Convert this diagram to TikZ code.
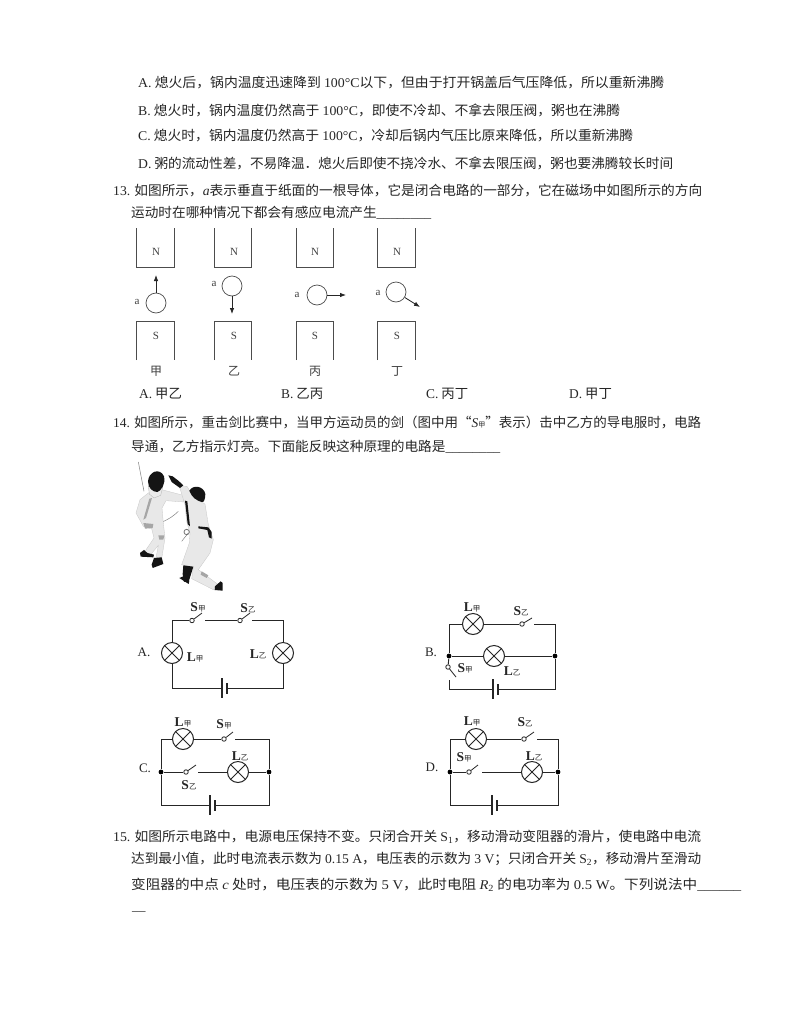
\documentclass[tikz,border=0pt]{standalone}
\usepackage{fontspec}
\usepackage{graphicx}
\setmainfont{Noto Sans CJK SC}
\newfontfamily\lt{Liberation Serif}
\usetikzlibrary{arrows.meta}
\newcommand{\LT}[1]{{\lt #1}}
\newcommand{\LI}[1]{{\lt\itshape #1}}
\newcommand{\FW}[2]{\resizebox{#1pt}{\height}{#2}}
\newcommand{\SB}[2]{{\lt\bfseries\fontsize{13.5}{13.5}\selectfont #1}{\fontsize{7.5}{7.5}\selectfont #2}}
\tikzset{
 txt/.style={anchor=west,inner sep=0pt,font=\fontsize{13.4}{14}\selectfont,text=black!85},
 lab/.style={inner sep=0pt,font=\lt\fontsize{11}{11}\selectfont,text=black!75},
 han/.style={inner sep=0pt,font=\fontsize{12}{12}\selectfont,text=black!75},
 opt/.style={inner sep=0pt,font=\lt\fontsize{13}{13}\selectfont,text=black!85},
 clabel/.style={inner sep=0pt,text=black!85},
 magnet/.style={draw=black!70,line width=0.7pt},
 wire/.style={draw=black!85,line width=0.9pt},
 arm/.style={draw=black!85,line width=0.8pt},
 lamp/.style={circle,draw=black!85,line width=1pt,fill=white,minimum size=21pt,inner sep=0pt,
   path picture={\draw[black!85,line width=0.9pt]
     (path picture bounding box.north west)--(path picture bounding box.south east)
     (path picture bounding box.north east)--(path picture bounding box.south west);}},
 swdot/.style={circle,draw=black!85,line width=0.8pt,fill=white,minimum size=4.5pt,inner sep=0pt},
 jdot/.style={circle,fill=black,minimum size=4.8pt,inner sep=0pt},
 plong/.style={fill=black!85,inner sep=0pt,minimum width=1.1pt,minimum height=20pt},
 pshort/.style={fill=black!85,inner sep=0pt,minimum width=1.6pt,minimum height=11pt},
 ball/.style={circle,draw=black!70,line width=0.7pt,minimum size=20pt,inner sep=0pt},
 move/.style={draw=black!85,line width=0.8pt,-{Latex[length=6pt,width=4.5pt]}},
 suit/.style={fill=black!9,draw=black!22,line width=0.3pt},
 shade/.style={fill=black!35,draw=none},
 dark/.style={fill=black!92,draw=none},
 blade/.style={draw=black!50,line width=0.5pt},
}
\begin{document}
\begin{tikzpicture}[x=1pt,y=-1pt]
\useasboundingbox (0,0) rectangle (794,1028);
\fill[white] (0,0) rectangle (794,1028);
% text lines
\node[txt] (ta) at (138,83) {\FW{526}{\LT{A.} 熄火后，锅内温度迅速降到 \LT{100°C}以下，但由于打开锅盖后气压降低，所以重新沸腾}};
\node[txt] (tb) at (138,110) {\FW{482}{\LT{B.} 熄火时，锅内温度仍然高于 \LT{100°C}，即使不冷却、不拿去限压阀，粥也在沸腾}};
\node[txt] (tc) at (138,136) {\FW{495}{\LT{C.} 熄火时，锅内温度仍然高于 \LT{100°C}，冷却后锅内气压比原来降低，所以重新沸腾}};
\node[txt] (td) at (138,163) {\FW{535}{\LT{D.} 粥的流动性差，不易降温．熄火后即使不挠冷水、不拿去限压阀，粥也要沸腾较长时间}};
\node[txt] (q13) at (113,191) {\FW{589}{\LT{13.} 如图所示，\LI{a}表示垂直于纸面的一根导体，它是闭合电路的一部分，它在磁场中如图所示的方向}};
\node[txt] (q13b) at (131,213) {\FW{300}{运动时在哪种情况下都会有感应电流产生\LT{\_\_\_\_\_\_\_\_}}};
% magnets
\draw[magnet] (136,228)--(136,267)--(174,267)--(174,228);
\draw[magnet] (214,228)--(214,267)--(251,267)--(251,228);
\draw[magnet] (296,228)--(296,267)--(333,267)--(333,228);
\draw[magnet] (377,228)--(377,267)--(415,267)--(415,228);
\draw[magnet] (136,360)--(136,321)--(174,321)--(174,360);
\draw[magnet] (214,360)--(214,321)--(251,321)--(251,360);
\draw[magnet] (296,360)--(296,321)--(333,321)--(333,360);
\draw[magnet] (377,360)--(377,321)--(415,321)--(415,360);
\foreach \n/\x in {1/156,2/234,3/315,4/397}{
 \node[lab] (n\n) at (\x,252) {N};
 \node[lab] (s\n) at (\x,336) {S};
}
\node[han] (h1) at (156,371) {甲};
\node[han] (h2) at (234,371) {乙};
\node[han] (h3) at (315,371) {丙};
\node[han] (h4) at (397,371) {丁};
\node[ball] (b1) at (156,303) {};
\node[ball] (b2) at (232,286) {};
\node[ball] (b3) at (317,295) {};
\node[ball] (b4) at (396,292) {};
\coordinate (e1) at (156,275); \coordinate (e2) at (232,314);
\coordinate (e3) at (346,295); \coordinate (e4) at (420,307);
\draw[move] (b1)--(e1); \draw[move] (b2)--(e2); \draw[move] (b3)--(e3); \draw[move] (b4)--(e4);
\node[lab] (a1) at (137,302) {a};
\node[lab] (a2) at (214,284) {a};
\node[lab] (a3) at (297,295) {a};
\node[lab] (a4) at (378,293) {a};
\node[txt] (oa) at (139,394) {\LT{A.} 甲乙};
\node[txt] (ob) at (281,394) {\LT{B.} 乙丙};
\node[txt] (oc) at (426,394) {\LT{C.} 丙丁};
\node[txt] (od) at (569,394) {\LT{D.} 甲丁};
% q14
\node[txt] (q14) at (113,422) {\FW{588}{\LT{14.} 如图所示，重击剑比赛中，当甲方运动员的剑（图中用“\LI{S}{\fontsize{7}{7}\selectfont 甲}”表示）击中乙方的导电服时，电路}};
\node[txt] (q14b) at (131,447) {\FW{369}{导通，乙方指示灯亮。下面能反映这种原理的电路是\LT{\_\_\_\_\_\_\_\_}}};
% fencers
\begin{scope}[shift={(130,458)},x=0.3333pt,y=-0.3333pt]
 \draw[blade] (25,12)--(42,100);
 \draw[blade] (50,205) .. controls (85,200) and (120,185) .. (145,160);
 \draw[blade] (175,225)--(155,250);
 % left fencer
 \path[suit] (55,105)--(30,125)--(18,165)--(40,205)--(65,212)--(72,240)--(45,280)--(62,290)--(85,262)--(78,300)--(95,302)--(105,240)--(100,195)--(96,150)--(108,128)--(162,132)--(160,112)--(95,95)--cycle;
 \path[shade] (58,122)--(66,120)--(48,180)--(40,185)--cycle;
 \path[shade] (85,232)--(103,232)--(100,245)--(88,245)--cycle;
 \path[fill=black!8,draw=black!30,line width=0.3pt] (55,85)--(98,88)--(92,112)--(72,120)--(58,108)--cycle;
 \path[dark] (54,70) .. controls (56,40) and (90,28) .. (102,55) .. controls (108,78) and (92,100) .. (82,102) .. controls (68,102) and (54,90) .. (54,70) -- cycle;
 \path[dark] (30,285)--(42,276)--(52,285)--(72,290)--(70,298)--(32,296)--cycle;
 \path[dark] (72,300)--(95,298)--(100,318)--(68,330)--(65,320)--cycle;
 \path[shade] (40,195)--(70,198)--(68,210)--(45,212)--cycle;
 % right fencer
 \path[suit] (148,85)--(165,140)--(170,190)--(180,225)--(178,255)--(155,320)--(190,328)--(185,362)--(250,395)--(262,378)--(205,335)--(240,285)--(250,245)--(235,200)--(225,138)--(190,118)--(172,86)--cycle;
 \path[dark] (115,52)--(128,55)--(145,68)--(160,82)--(150,90)--(125,72)--cycle;
 \path[dark] (178,98) .. controls (190,78) and (222,85) .. (226,108) .. controls (226,122) and (222,135) .. (215,132) .. controls (200,128) and (185,118) .. (178,98) -- cycle;
 \path[dark] (165,128)--(172,130)--(180,205)--(173,198)--cycle;
 \path[dark] (205,205)--(235,208)--(245,222)--(245,242)--(237,238)--(232,216)--(205,211)--cycle;
 \path[dark] (160,322)--(190,326)--(178,365)--(162,372)--(158,348)--cycle;
 \path[dark] (148,360)--(160,355)--(178,368)--(176,378)--cycle;
 \path[dark] (255,385)--(272,370)--(278,375)--(278,398)--(254,396)--cycle;
 \path[shade] (215,340)--(235,352)--(230,360)--(212,350)--cycle;
 \draw[black!55,line width=0.8pt] (170,222) circle (8);
\end{scope}
% circuit A
\node[opt] (la) at (144,652) {A.};
\node[lamp] (a1l) at (172,653) {};
\node[lamp] (a2l) at (283,653) {};
\node[swdot] (as1) at (192,620.5) {};
\node[swdot] (as2) at (240,620.5) {};
\coordinate (aTL) at (172,620.5); \coordinate (aTR) at (283,620.5);
\coordinate (aBL) at (172,688); \coordinate (aBR) at (283,688);
\coordinate (aA1) at (202,613); \coordinate (aA2) at (250,613);
\coordinate (aG1) at (205,620.5); \coordinate (aG2) at (252,620.5);
\node[plong] (ap) at (222,688) {};
\node[pshort] (an) at (227,688) {};
\draw[wire] (as1)--(aTL)--(a1l);
\draw[wire] (a1l)--(aBL)--(ap);
\draw[wire] (an)--(aBR)--(a2l);
\draw[wire] (a2l)--(aTR)--(aG2);
\draw[wire] (aG1)--(as2);
\draw[arm] (as1)--(aA1); \draw[arm] (as2)--(aA2);
\node[clabel] (als1) at (198,607) {\SB{S}{甲}};
\node[clabel] (als2) at (248,608) {\SB{S}{乙}};
\node[clabel] (all1) at (195,657) {\SB{L}{甲}};
\node[clabel] (all2) at (258,654) {\SB{L}{乙}};
% circuit B
\node[opt] (lb) at (431,652) {B.};
\node[lamp] (b1l) at (473,624) {};
\node[lamp] (b2l) at (494,656) {};
\node[swdot] (bs1) at (522,624) {};
\node[swdot] (bs2) at (448,667) {};
\node[jdot] (bj1) at (449,656) {};
\node[jdot] (bj2) at (555,656) {};
\coordinate (bTL) at (449,624); \coordinate (bTR) at (555,624);
\coordinate (bBL) at (449,689); \coordinate (bBR) at (555,689);
\coordinate (bG1) at (534,624); \coordinate (bA1) at (532,618);
\coordinate (bA2) at (456,677); \coordinate (bG2) at (449,680);
\node[plong] (bp) at (493,689) {};
\node[pshort] (bn) at (498,689) {};
\draw[wire] (bj1)--(bTL)--(b1l);
\draw[wire] (b1l)--(bs1);
\draw[wire] (bG1)--(bTR)--(bj2);
\draw[wire] (bj1)--(b2l); \draw[wire] (b2l)--(bj2);
\draw[wire] (bj2)--(bBR)--(bn);
\draw[wire] (bp)--(bBL)--(bG2);
\draw[wire] (bj1)--(bs2);
\draw[arm] (bs1)--(bA1); \draw[arm] (bs2)--(bA2);
\node[clabel] (bll1) at (472,607) {\SB{L}{甲}};
\node[clabel] (bls1) at (521,611) {\SB{S}{乙}};
\node[clabel] (bls2) at (465,668) {\SB{S}{甲}};
\node[clabel] (bll2) at (512,671) {\SB{L}{乙}};
% circuit C
\node[opt] (lc) at (145,768) {C.};
\node[lamp] (c1l) at (183,739) {};
\node[lamp] (c2l) at (238,772) {};
\node[swdot] (cs1) at (224,739) {};
\node[swdot] (cs2) at (186,772) {};
\node[jdot] (cj1) at (161,772) {};
\node[jdot] (cj2) at (269,772) {};
\coordinate (cTL) at (161,739); \coordinate (cTR) at (269,739);
\coordinate (cBL) at (161,805); \coordinate (cBR) at (269,805);
\coordinate (cG1) at (235,739); \coordinate (cA1) at (233,732);
\coordinate (cG2) at (198,772); \coordinate (cA2) at (196,765);
\node[plong] (cp) at (210,805) {};
\node[pshort] (cn) at (215,805) {};
\draw[wire] (cj1)--(cTL)--(c1l);
\draw[wire] (c1l)--(cs1);
\draw[wire] (cG1)--(cTR)--(cj2);
\draw[wire] (cj1)--(cs2);
\draw[wire] (cG2)--(c2l);
\draw[wire] (c2l)--(cj2);
\draw[wire] (cj1)--(cBL)--(cp);
\draw[wire] (cn)--(cBR)--(cj2);
\draw[arm] (cs1)--(cA1); \draw[arm] (cs2)--(cA2);
\node[clabel] (cll1) at (183,722) {\SB{L}{甲}};
\node[clabel] (cls1) at (224,724) {\SB{S}{甲}};
\node[clabel] (cll2) at (240,756) {\SB{L}{乙}};
\node[clabel] (cls2) at (189,785) {\SB{S}{乙}};
% circuit D
\node[opt] (ld) at (432,767) {D.};
\node[lamp] (d1l) at (476,739) {};
\node[lamp] (d2l) at (532,772) {};
\node[swdot] (ds1) at (524,739) {};
\node[swdot] (ds2) at (469,772) {};
\node[jdot] (dj1) at (450,772) {};
\node[jdot] (dj2) at (558,772) {};
\coordinate (dTL) at (450,739); \coordinate (dTR) at (558,739);
\coordinate (dBL) at (450,805); \coordinate (dBR) at (558,805);
\coordinate (dG1) at (537,739); \coordinate (dA1) at (534,732);
\coordinate (dG2) at (482,772); \coordinate (dA2) at (478,765);
\node[plong] (dp) at (492,805) {};
\node[pshort] (dn) at (497,805) {};
\draw[wire] (dj1)--(dTL)--(d1l);
\draw[wire] (d1l)--(ds1);
\draw[wire] (dG1)--(dTR)--(dj2);
\draw[wire] (dj1)--(ds2);
\draw[wire] (dG2)--(d2l);
\draw[wire] (d2l)--(dj2);
\draw[wire] (dj1)--(dBL)--(dp);
\draw[wire] (dn)--(dBR)--(dj2);
\draw[arm] (ds1)--(dA1); \draw[arm] (ds2)--(dA2);
\node[clabel] (dll1) at (472,721) {\SB{L}{甲}};
\node[clabel] (dls1) at (525,722) {\SB{S}{乙}};
\node[clabel] (dls2) at (464,757) {\SB{S}{甲}};
\node[clabel] (dll2) at (534,756) {\SB{L}{乙}};
% q15
\node[txt] (q15) at (113,837) {\FW{588}{\LT{15.} 如图所示电路中，电源电压保持不变。只闭合开关 \LT{S\textsubscript{1}}，移动滑动变阻器的滑片，使电路中电流}};
\node[txt] (q15b) at (131,859) {\FW{570}{达到最小值，此时电流表示数为 \LT{0.15 A}，电压表的示数为 \LT{3 V}；只闭合开关 \LT{S\textsubscript{2}}，移动滑片至滑动}};
\node[txt] (q15c) at (131,885) {\FW{610}{变阻器的中点 \LI{c} 处时，电压表的示数为 \LT{5 V}，此时电阻 \LI{R}\LT{\textsubscript{2}} 的电功率为 \LT{0.5 W}。下列说法中\LT{\_\_\_\_\_\_}}};
\node[txt] (q15d) at (132,911) {\LT{\_\_}};
\end{tikzpicture}
\end{document}
